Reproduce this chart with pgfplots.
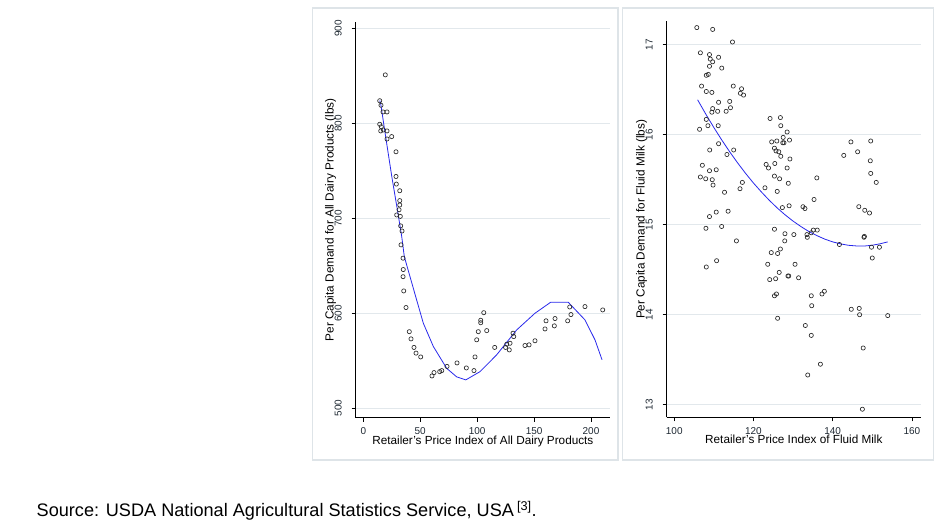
\documentclass[border=0pt]{standalone}
\usepackage{pgfplots}
\pgfplotsset{compat=1.18}
\usepackage{fontspec}
\setmainfont{Liberation Sans}
\definecolor{gridc}{RGB}{226,232,236}
\definecolor{framec}{RGB}{222,228,232}
\definecolor{fitc}{RGB}{40,40,235}
\definecolor{tickc}{RGB}{30,40,50}
\pgfplotsset{
  stataax/.style={
    scale only axis, width=254.3bp, height=396bp, anchor=south west,
    axis lines*=left, axis line style={-, black, line width=0.8bp},
    tick align=outside, major tick length=4bp, tick style={black, line width=0.6bp},
    xtick pos=bottom, ytick pos=left,
    ymajorgrids, grid style={gridc, line width=0.8bp},
    /pgf/number format/assume math mode=true,
    ticklabel style={font=\fontsize{10}{11}\selectfont, text=tickc, inner sep=0pt},
    xticklabel style={anchor=base, yshift=-13bp},
    yticklabel style={anchor=base, xshift=-10bp, rotate=90},
    every axis x label/.style={at={(axis description cs:0.5,0)}, anchor=base, yshift=-26.6bp,
      font=\fontsize{11.8}{13}\selectfont, inner sep=0pt},
    every axis y label/.style={at={(axis description cs:0,0.5)}, anchor=base, xshift=-22bp, rotate=90,
      font=\fontsize{11.8}{13}\selectfont, inner sep=0pt},
    every axis plot/.append style={line join=round},
  },
  dots/.style={only marks, mark=o, mark size=2.1bp, mark options={line width=0.65bp, black!85}},
  fit/.style={no marks, fitc, line width=0.8bp},
}
\begin{document}
\begin{tikzpicture}
\path[use as bounding box] (0,0) rectangle (949bp,521bp);
\draw[framec, line width=1.2bp] (312.5bp,61bp) rectangle (618bp,513bp);
\draw[framec, line width=1.2bp] (622.5bp,61bp) rectangle (933.5bp,513bp);
\begin{axis}[stataax, at={(355.7bp,103.3bp)},
  xmin=-6.7, xmax=216.7, ymin=490, ymax=907,
  xtick={0,50,100,150,200}, ytick={500,600,700,800,900},
  xlabel={Retailer's Price Index of All Dairy Products},
  ylabel={Per Capita Demand for All Dairy Products (lbs)}]
\addplot[dots] coordinates {
(19.3,851) (14.4,823.8) (15.5,819) (17.3,812) (20.8,812) (14.4,799) (15.8,796.4)
(15.3,792) (17.6,793) (20.8,792) (20.8,783.5) (24.9,786) (28.7,770) (28.7,744)
(29,736) (32,729) (32,718.6) (32,714) (31.4,709) (32.5,702) (29.3,703.5)
(32.8,692) (34,686.6) (33.1,672) (34.9,658) (35.1,646) (34.9,638.5) (35.5,623.5)
(37.5,606) (40.4,580.6) (41.9,573) (44.5,564) (46.3,558) (50.4,554) (60.3,534)
(62.1,537.5) (67.1,538.5) (68.9,539.6) (73.5,544) (82.3,547.7) (90.5,542.4)
(97.2,539.6) (98.1,554) (99.6,572) (101,580.6) (103.1,590) (103.1,592.6)
(105.8,600.6) (108.4,581.7) (115.4,564) (125,564) (126,567.4) (128.2,561.4)
(128.9,568.4) (131.5,579) (132.1,575.4) (142,566) (145.6,566.7) (150.8,571)
(159.6,583.5) (160.5,592) (167.8,586.7) (168.4,594.4) (179.5,592) (181.3,606.6)
(182.4,598.6) (194.7,607) (210.3,603.5)
};
\addplot[fit] coordinates {
(14.4,824) (15.2,821) (20.5,779) (25,744) (29.9,709) (33.7,681) (36,659.6)
(46,617.5) (52.7,589.5) (61.5,565) (73.2,542) (82,533) (90,529.8) (102.5,538.5)
(117,556) (134.7,582.4) (150.8,600) (164.6,611.6) (180,611.6) (194.7,593)
(203.5,572) (209.7,551)
};
\end{axis}
\begin{axis}[stataax, at={(666.7bp,103.7bp)},
  xmin=98.1, xmax=162.3, ymin=12.86, ymax=17.26,
  xtick={100,120,140,160}, ytick={13,14,15,16,17},
  xlabel={Retailer's Price Index of Fluid Milk},
  ylabel={Per Capita Demand for Fluid Milk (lbs)}]
\addplot[dots] coordinates {
(105.7,17.19) (109.7,17.17) (114.7,17.03) (106.6,16.91) (108.9,16.89) (111.2,16.86)
(109.1,16.84) (109.7,16.81) (108.9,16.76) (112.0,16.74) (108.6,16.67) (108.1,16.66)
(106.9,16.54) (108.1,16.48) (109.5,16.47) (114.9,16.54) (117.0,16.51) (116.7,16.46)
(117.5,16.44) (114.0,16.37) (111.2,16.36) (114.2,16.30) (113.1,16.26) (109.7,16.29)
(109.5,16.25) (110.96,16.26) (108.1,16.17) (108.5,16.10) (111.1,16.10) (106.4,16.06)
(111.2,15.90) (108.95,15.83) (115.0,15.83) (113.3,15.78) (107.1,15.66) (110.6,15.61)
(108.9,15.60) (106.6,15.53) (107.95,15.51) (109.6,15.50) (109.8,15.44) (117.2,15.47)
(116.6,15.40) (112.7,15.36) (110.6,15.14) (108.9,15.09) (113.6,15.15) (108.0,14.96)
(111.97,14.98)
(124.2,16.18) (126.8,16.19) (126.9,16.10) (128.5,16.03) (127.5,15.97) (129.1,15.94)
(127.4,15.91) (127.7,15.91) (124.6,15.92) (125.9,15.93) (125.3,15.85) (125.7,15.82)
(126.4,15.81) (126.9,15.76) (129.2,15.73) (125.4,15.68) (123.2,15.67) (123.8,15.63)
(128.5,15.63) (125.3,15.54) (126.6,15.51) (128.8,15.46) (136.0,15.52) (122.9,15.41)
(126.0,15.37) (135.3,15.28) (129.0,15.21) (127.3,15.19) (132.5,15.20) (133.0,15.18)
(125.3,14.95) (127.95,14.90) (130.2,14.89) (133.5,14.89) (133.6,14.86) (134.6,14.91)
(135.1,14.94) (136.1,14.94)
(144.6,15.92) (149.6,15.93) (142.8,15.77) (146.3,15.81) (149.5,15.71) (149.6,15.57)
(151.0,15.47) (146.6,15.20) (148.1,15.16) (149.3,15.13) (147.9,14.86) (148.0,14.87)
(115.7,14.82) (108.1,14.53) (110.7,14.60) (124.5,14.69) (126.1,14.68) (126.8,14.73)
(127.9,14.82) (141.7,14.78) (149.8,14.75) (151.8,14.75) (150.0,14.63) (123.6,14.56)
(130.5,14.56) (126.5,14.47) (128.7,14.43) (128.9,14.43) (124.1,14.39) (125.6,14.40)
(131.4,14.41) (125.3,14.21) (125.8,14.23) (134.6,14.21) (137.3,14.23) (137.9,14.26)
(134.7,14.10) (144.7,14.06) (146.7,14.07) (146.8,14.00) (126.1,13.96) (153.9,13.99)
(133.1,13.88) (134.6,13.77) (147.7,13.63) (136.9,13.45) (133.7,13.33) (147.5,12.95)
};
\addplot[fit] coordinates {
(105.9,16.388) (108,16.226) (110,16.08) (112,15.941) (114,15.81) (116,15.687)
(118,15.571) (120,15.463) (122,15.364) (124,15.271) (126,15.186) (128,15.109)
(130,15.04) (132,14.979) (134,14.924) (136,14.879) (138,14.84) (140,14.809)
(142,14.787) (144,14.771) (146,14.764) (148,14.763) (150,14.772) (152,14.788)
(153.9,14.809)
};
\end{axis}
\node[anchor=base west, font=\fontsize{18.2}{21}\selectfont, inner sep=0pt] at (36.5bp,4.3bp)
  {Source: USDA National Agricultural Statistics Service, USA\,\textsuperscript{[3]}.};
\end{tikzpicture}
\end{document}
